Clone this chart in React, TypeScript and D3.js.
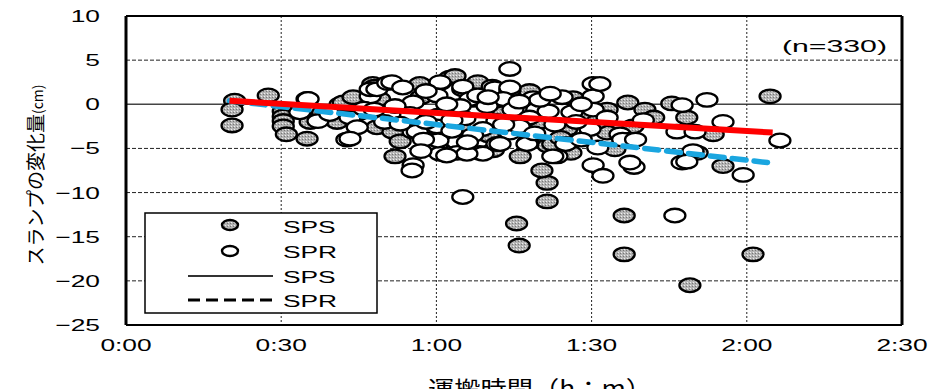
import React from "react";
import * as d3 from "d3";

// x: minutes of transport time, y: slump change (cm)
const xTicks = [0, 30, 60, 90, 120, 150];
const xTickLabels = ["0:00", "0:30", "1:00", "1:30", "2:00", "2:30"];
const yTicks = [10, 5, 0, -5, -10, -15, -20, -25];
const yTickLabels = ["10", "5", "0", "\u22125", "\u221210", "\u221215", "\u221220", "\u221225"];

const spsPoints: [number, number][] = [
  [21, 0.4], [20.5, -0.6], [20.5, -2.4], [27.5, 1.0], [30.4, -0.8], [30.4, -1.4], [30.4, -1.9], [30.4, -2.5],
  [31, -3.4], [35, -3.9], [35, 0.6], [35.6, -2.0], [40.8, -2.0], [41.4, 0], [42, 0.2], [43.9, 0.8], [47.7, 2.3],
  [48.1, 2.0], [48.5, -2.6], [49, 0.6], [51.6, -3.1], [52, -5.9], [56.8, 2.3], [58.8, -4], [62.6, 3.0],
  [63.6, 3.2], [76.2, -5.9], [81.6, -4.7], [81.4, -8.9], [80.4, -7.5], [81.4, -11.0], [75.5, -13.5], [76, -16.0],
  [86.4, 0.7], [85.2, -2.8], [93, -0.6], [93, -3.2], [94.5, -5.1], [97, 0.2], [100.3, -0.6], [105.5, 0.1],
  [108.4, -1.5], [113.5, -3.4], [110.4, -5.5], [115.4, -7.0], [124.5, 0.9], [96.3, -12.6], [96.3, -17.0],
  [109, -20.5], [121.2, -17.0], [82.5, -4.5], [45, -1], [55, -1.5], [62, -1.2], [67, 0.5], [70, -3.5], [73, -1],
  [78, 1.5], [80, -2], [88, -1.5], [65, -3], [57, 0.8], [38, -1], [60, -4.3], [68, 2.5], [84, -3.8], [91, -2],
  [98, -2.5], [102, -1.5], [53, -4.2], [71, -5.2], [86, -5.5],
];

const sprPoints: [number, number][] = [
  [35.2, 0.6], [33.6, -0.9], [37.1, -1.9], [39.4, -1.1], [43.3, -1.5], [44.7, -2.6], [42.7, -4], [43.3, -3.9],
  [47.2, 0.9], [47.2, 1.7], [48.5, 1.7], [50.6, 2.4], [51.4, 2.5], [53.5, 1.9], [60.7, 2.4], [60.7, 2.5],
  [65.1, 1.7], [65.1, 2.0], [70.8, 2.0], [71.3, 1.8], [74.2, 1.6], [74.2, 1.9], [74.2, 4.0], [60.1, 1.0],
  [66.5, 0.6], [72.9, 0.6], [78.7, 0.7], [55.5, 0.2], [64.6, -0.2], [69.8, -0.2], [74.8, -0.6], [79.4, -0.6],
  [54.9, -1.1], [60.3, -1.3], [51, -1.1], [65.5, -1.6], [71.7, -1.9], [55.5, -3.1], [56.3, -3.1], [60.1, -2.5],
  [69, -2.8], [74.2, -3.2], [60.1, -5], [64, -4.3], [64, -5.5], [68.4, -5.5], [69, -5.6], [65.9, -5.6],
  [60.7, -5.6], [71.7, -4.5], [72.3, -4.5], [77.7, -4.3], [77.5, -4.5], [55.5, -6.9], [55.3, -7.5],
  [65.1, -10.5], [83.3, -5.9], [82.5, -5.9], [90.3, -6.9], [92.2, -8.1], [98.2, -7.1], [106.1, -12.6],
  [107.5, -6.6], [90.3, 2.3], [90.3, 0.9], [84.3, 0.8], [90.3, -0.6], [86.2, -0.9], [81.6, -0.8], [82.9, -2.3],
  [89.7, -2.8], [95.5, -3.4], [97.4, -4], [106.5, -3.1], [110, -3.1], [91.2, -4.9], [97.4, -6.6], [109.6, -5.3],
  [108.4, -6.5], [107.5, -0.1], [112.3, 0.5], [115.4, -2.0], [126.4, -4.1], [119.3, -8.0], [91.6, 2.3],
  [96, -4], [98.5, -4], [60.3, -4.1], [78, -1.5], [76, -2.5], [62, 0], [58, -2], [68, 1], [52, -0.2], [46, -0.5],
  [85, -4.5], [88, 0], [100, -1.8], [57.5, -4], [67, -3.5], [80, 0.5], [50, -2], [63, -3],
  [58, 1.5], [63, -1.8], [70, 0.8], [76, 0.3], [82, 1.2], [87, -2], [53, -2.2], [48, -0.6], [73, -2.3],
  [79, -3.3], [66, -4.3], [57, -5.3], [62, -5.8], [88, -4], [93, -1.5],
];

const spsFit: [number, number][] = [[20, 0.4], [125, -3.2]];
const sprFit: [number, number][] = [[20, 0.4], [124, -6.6]];

const legendLabels = ["SPS", "SPR", "SPS", "SPR"];

const FONT = "'Liberation Sans', Arial, sans-serif";
const SX = 1.55;

function SText(props: { x: number; y: number; anchor: string; size: number; sx?: number; children: React.ReactNode }) {
  const { x, y, anchor, size, sx = SX, children } = props;
  return (
    <g transform={`translate(${x},${y}) scale(${sx},1)`}>
      <text x={0} y={0} textAnchor={anchor as any} fontFamily={FONT} fontSize={size} fill="#000">
        {children}
      </text>
    </g>
  );
}

export default function App() {
  const x = d3.scaleLinear().domain([0, 150]).range([126, 902]);
  const y = d3.scaleLinear().domain([-25, 10]).range([325, 16]);
  const line = d3.line<[number, number]>().x((d) => x(d[0])).y((d) => y(d[1]));
  const rx = 10.5, ry = 6.8;

  return (
    <svg width={933} height={389} style={{ position: "absolute", left: 0, top: 0, background: "#fff" }}>
      <defs>
        <pattern id="stip" width="3" height="3" patternUnits="userSpaceOnUse">
          <rect width="3" height="3" fill="#b4b4b4" />
          <rect x="0" y="0" width="1" height="1" fill="#eeeeee" />
          <rect x="2" y="1" width="1" height="1" fill="#777" />
        </pattern>
      </defs>
      <rect x={0} y={0} width={933} height={389} fill="#fff" />

      {/* grid */}
      {yTicks.filter((t) => t !== 10 && t !== -25 && t !== 0).map((t) => (
        <line key={"gy" + t} x1={x(0)} x2={x(150)} y1={y(t)} y2={y(t)} stroke="#222" strokeWidth={1} strokeDasharray="4,2" />
      ))}
      <line x1={x(0)} x2={x(150)} y1={y(0)} y2={y(0)} stroke="#444" strokeWidth={1.4} />
      {xTicks.filter((t) => t !== 0 && t !== 150).map((t) => (
        <line key={"gx" + t} x1={x(t)} x2={x(t)} y1={y(10)} y2={y(-25)} stroke="#222" strokeWidth={1} strokeDasharray="2,2" />
      ))}

      {/* points */}
      {spsPoints.map((d, i) => (
        <ellipse key={"s" + i} cx={x(d[0])} cy={y(d[1])} rx={rx} ry={ry} fill="url(#stip)" stroke="#000" strokeWidth={2.3} />
      ))}
      {sprPoints.map((d, i) => (
        <ellipse key={"r" + i} cx={x(d[0])} cy={y(d[1])} rx={rx} ry={ry} fill="#fff" stroke="#000" strokeWidth={2.3} />
      ))}

      {/* regression lines */}
      <path d={line(sprFit) || ""} fill="none" stroke="#1aa6e0" strokeWidth={5.5} strokeDasharray="14,8" strokeLinecap="round" />
      <path d={line(spsFit) || ""} fill="none" stroke="#ff0000" strokeWidth={6} strokeLinecap="butt" />

      {/* frame */}
      <line x1={x(0)} x2={x(150)} y1={y(10)} y2={y(10)} stroke="#000" strokeWidth={2} />
      <line x1={x(0)} x2={x(150)} y1={y(-25)} y2={y(-25)} stroke="#000" strokeWidth={2} />
      <line x1={x(0)} x2={x(0)} y1={y(10)} y2={y(-25)} stroke="#000" strokeWidth={3} />
      <line x1={x(150)} x2={x(150)} y1={y(10)} y2={y(-25)} stroke="#000" strokeWidth={3} />

      {/* legend */}
      <rect x={145} y={213} width={232} height={100} fill="#fff" stroke="#000" strokeWidth={1.5} />
      <ellipse cx={230} cy={225} rx={8} ry={5} fill="url(#stip)" stroke="#000" strokeWidth={2.4} />
      <ellipse cx={230} cy={251} rx={8} ry={5} fill="#fff" stroke="#000" strokeWidth={2.4} />
      <line x1={188} x2={273} y1={276} y2={276} stroke="#333" strokeWidth={1.8} />
      <line x1={188} x2={273} y1={300} y2={300} stroke="#000" strokeWidth={3.2} strokeDasharray="12,6" />
      {legendLabels.map((l, i) => (
        <SText key={"lg" + i} x={283} y={[233, 258, 283, 307][i]} anchor="start" size={17}>{l}</SText>
      ))}

      {/* tick labels */}
      {yTicks.map((t, i) => (
        <SText key={"yl" + t} x={100} y={y(t) + 6} anchor="end" size={17}>{yTickLabels[i]}</SText>
      ))}
      {xTicks.map((t, i) => (
        <SText key={"xl" + t} x={x(t)} y={351} anchor="middle" size={17}>{xTickLabels[i]}</SText>
      ))}

      {/* annotation */}
      <text x={782} y={52} fontFamily={FONT} fontSize={17} textLength={105} lengthAdjust="spacingAndGlyphs">(n=330)</text>

      {/* axis titles */}
      <text x={428} y={396} fontFamily="'Noto Sans CJK JP', sans-serif" fontSize={21} textLength={224} lengthAdjust="spacingAndGlyphs">運搬時間（h：m）</text>
      <g transform="translate(43,175) rotate(-90)">
        <text x={0} y={0} textAnchor="middle" fontFamily="'Noto Sans CJK JP', sans-serif" fontSize={19}>
          スランプの変化量<tspan fontSize={14}>(cm)</tspan>
        </text>
      </g>
    </svg>
  );
}
